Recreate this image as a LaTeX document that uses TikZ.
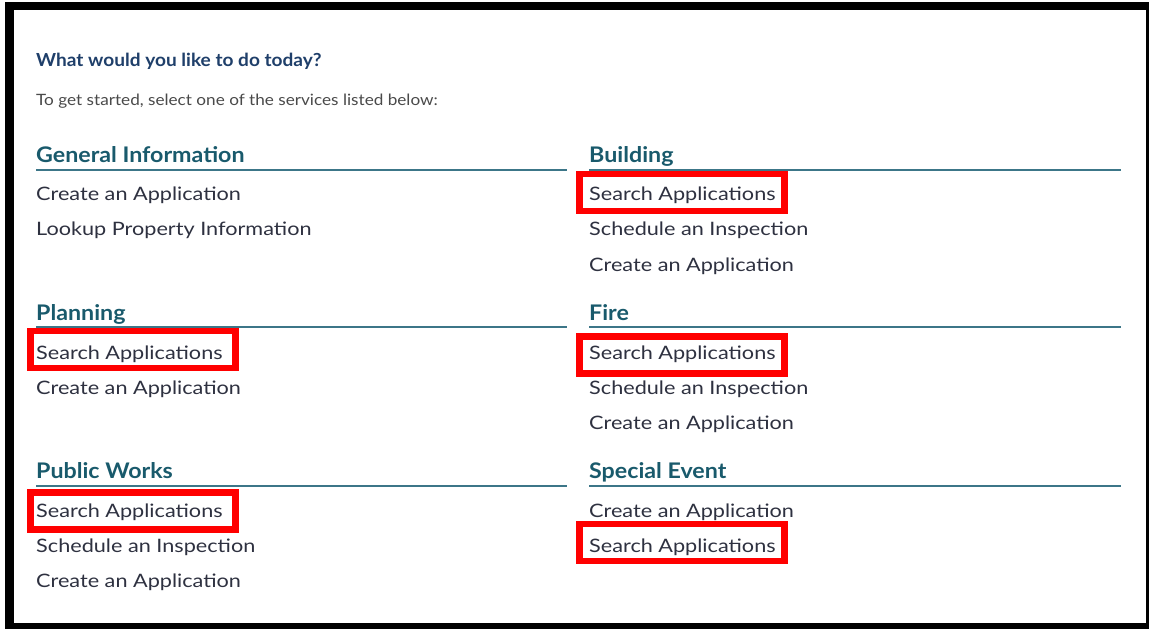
\documentclass[tikz,border=0pt]{standalone}
\usepackage{fontspec}
\setmainfont{Lato}
\newfontfamily\titlefont[FakeStretch=1.06]{Lato}
\newfontfamily\subfont[FakeStretch=1.1]{Lato}
\newfontfamily\headfont[FakeStretch=1.08]{Lato}
\newfontfamily\itemfont[FakeStretch=1.17]{Lato}
\definecolor{titlec}{HTML}{1F3F6A}
\definecolor{subc}{HTML}{4A4A4A}
\definecolor{headc}{HTML}{195A6C}
\definecolor{rulec}{HTML}{3C7688}
\definecolor{itemc}{HTML}{2E3140}
\definecolor{boxred}{HTML}{FF0000}
\begin{document}
\begin{tikzpicture}[x=1pt,y=-1pt,
  title/.style={anchor=base west,inner sep=0pt,font=\titlefont\fontsize{18}{20}\selectfont\bfseries,text=titlec},
  sub/.style={anchor=base west,inner sep=0pt,font=\subfont\fontsize{15.6}{17}\selectfont,text=subc},
  head/.style={anchor=base west,inner sep=0pt,font=\headfont\fontsize{21.5}{23}\selectfont\bfseries,text=headc},
  item/.style={anchor=base west,inner sep=0pt,font=\itemfont\fontsize{18.5}{20}\selectfont,text=itemc},
  hrule/.style={draw=rulec,line width=2.2pt},
  redbox/.style={draw=boxred,line width=6.5pt,inner sep=0pt,minimum width=205pt,minimum height=37pt}
]
\useasboundingbox (0,0) rectangle (1149,629);
\fill[black] (5,2) rectangle (1149,629);
\fill[white] (14,10) rectangle (1146,623);

\node[title] (t) at (36,66.5) {What would you like to do today?};
\node[sub] (s) at (36,105.5) {To get started, select one of the services listed below:};

% left column
\node[head] (h1) at (36,162) {General Information};
\coordinate (h1a) at (36,170); \coordinate (h1b) at (567,170);
\draw[hrule] (h1a) -- (h1b);
\node[item] (i11) at (36,200) {Create an Application};
\node[item] (i12) at (36,235) {Lookup Property Information};

\node[head] (h2) at (36,320) {Planning};
\coordinate (h2a) at (36,327); \coordinate (h2b) at (567,327);
\draw[hrule] (h2a) -- (h2b);
\node[item] (i21) at (36,359) {Search Applications};
\node[item] (i22) at (36,394) {Create an Application};

\node[head] (h3) at (36,478) {Public Works};
\coordinate (h3a) at (36,486); \coordinate (h3b) at (567,486);
\draw[hrule] (h3a) -- (h3b);
\node[item] (i31) at (36,517) {Search Applications};
\node[item] (i32) at (36,552) {Schedule an Inspection};
\node[item] (i33) at (36,587) {Create an Application};

% right column
\node[head] (h4) at (589,162) {Building};
\coordinate (h4a) at (589,170); \coordinate (h4b) at (1121,170);
\draw[hrule] (h4a) -- (h4b);
\node[item] (i41) at (589,200) {Search Applications};
\node[item] (i42) at (589,235) {Schedule an Inspection};
\node[item] (i43) at (589,271) {Create an Application};

\node[head] (h5) at (589,320) {Fire};
\coordinate (h5a) at (589,327); \coordinate (h5b) at (1121,327);
\draw[hrule] (h5a) -- (h5b);
\node[item] (i51) at (589,359) {Search Applications};
\node[item] (i52) at (589,394) {Schedule an Inspection};
\node[item] (i53) at (589,429) {Create an Application};

\node[head] (h6) at (589,478) {Special Event};
\coordinate (h6a) at (589,486); \coordinate (h6b) at (1121,486);
\draw[hrule] (h6a) -- (h6b);
\node[item] (i61) at (589,517) {Create an Application};
\node[item] (i62) at (589,552) {Search Applications};

% highlight boxes
\node[redbox] (b1) at (133,349.5) {};
\node[redbox] (b2) at (133,511) {};
\node[redbox] (b3) at (682,192.5) {};
\node[redbox] (b4) at (682,355) {};
\node[redbox] (b5) at (682,542.5) {};
\end{tikzpicture}
\end{document}
